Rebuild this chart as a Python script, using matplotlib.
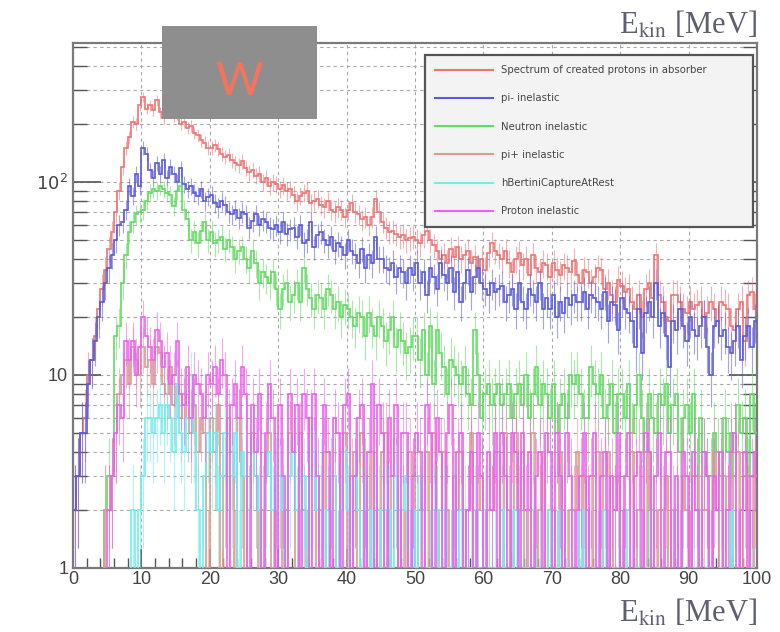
import numpy as np
import matplotlib.pyplot as plt
from matplotlib.lines import Line2D
from matplotlib.patches import Rectangle
from matplotlib.ticker import FixedLocator, NullFormatter, MultipleLocator

# 200 bins of 0.5 MeV between 0 and 100 MeV
edges = np.linspace(0, 100, 201)

total = [
    2, 3, 5, 6, 10, 12, 16, 22, 28, 35, 45, 55, 70, 90, 120, 150, 170, 205, 200, 250,
    275, 240, 250, 235, 265, 230, 215, 250, 235, 220, 225, 200, 205, 190, 195, 180, 175, 165, 160, 150,
    150, 155, 148, 140, 135, 138, 130, 125, 122, 128, 118, 112, 115, 108, 110, 100, 105, 95, 100, 98,
    92, 96, 90, 92, 86, 80, 85, 88, 90, 78, 80, 82, 76, 74, 80, 72, 70, 74, 72, 66,
    72, 78, 70, 68, 64, 66, 60, 66, 82, 70, 62, 58, 55, 56, 54, 52, 53, 50, 51, 52,
    50, 48, 53, 56, 50, 47, 44, 40, 42, 38, 45, 41, 46, 40, 42, 44, 38, 41, 36, 40,
    35, 43, 48, 44, 42, 40, 44, 38, 34, 40, 43, 37, 40, 33, 42, 36, 34, 38, 37, 32,
    38, 35, 33, 37, 36, 34, 39, 33, 30, 35, 34, 30, 32, 36, 35, 28, 30, 26, 24, 31,
    29, 27, 28, 24, 22, 26, 20, 28, 30, 25, 42, 26, 24, 20, 19, 26, 26, 24, 22, 21,
    24, 22, 23, 24, 20, 21, 24, 22, 19, 24, 23, 22, 18, 17, 22, 24, 15, 26, 27, 22,
]

pi_minus = [
    2, 3, 5, 5, 9, 12, 15, 20, 24, 30, 36, 42, 50, 60, 62, 72, 95, 85, 110, 95,
    150, 140, 115, 105, 125, 110, 130, 105, 120, 110, 100, 118, 98, 92, 95, 88, 85, 92, 80, 84,
    86, 78, 74, 80, 76, 70, 68, 72, 65, 70, 68, 58, 63, 68, 60, 64, 62, 58, 57, 60,
    55, 62, 54, 57, 58, 52, 60, 48, 50, 62, 46, 53, 55, 50, 47, 52, 44, 48, 46, 42,
    50, 44, 42, 38, 45, 36, 42, 38, 52, 40, 40, 36, 35, 38, 32, 36, 34, 30, 36, 33,
    38, 30, 34, 26, 36, 32, 28, 38, 33, 30, 36, 27, 34, 24, 30, 35, 27, 32, 36, 30,
    28, 26, 30, 27, 28, 29, 24, 26, 28, 22, 30, 24, 22, 28, 26, 24, 30, 22, 25, 22,
    26, 20, 24, 21, 25, 23, 26, 24, 24, 27, 22, 26, 25, 24, 22, 27, 19, 24, 23, 17,
    25, 22, 21, 19, 14, 22, 13, 21, 24, 20, 30, 18, 21, 16, 11, 19, 17, 22, 18, 15,
    20, 17, 16, 18, 20, 14, 10, 18, 19, 16, 17, 14, 13, 15, 18, 12, 16, 18, 14, 19,
]

neutron = [
    0, 0, 0, 0, 0, 0, 0, 0, 0, 2, 3, 3, 16, 18, 30, 42, 55, 62, 68, 70,
    72, 80, 88, 92, 90, 95, 92, 88, 86, 75, 90, 95, 72, 64, 50, 55, 48, 56, 62, 50,
    55, 48, 50, 52, 45, 50, 46, 40, 44, 46, 40, 36, 44, 38, 30, 34, 32, 30, 34, 28,
    22, 28, 30, 24, 26, 30, 24, 36, 28, 25, 22, 26, 25, 22, 28, 26, 22, 24, 20, 23,
    22, 20, 18, 21, 20, 16, 21, 18, 16, 20, 18, 15, 17, 20, 14, 17, 15, 13, 14, 16,
    16, 12, 17, 10, 18, 9, 17, 13, 11, 8, 12, 11, 10, 9, 11, 8, 7, 17, 10, 6,
    8, 9, 7, 8, 9, 7, 8, 9, 6, 8, 9, 7, 10, 6, 8, 11, 7, 9, 8, 6,
    9, 5, 7, 8, 6, 10, 9, 10, 8, 6, 6, 11, 9, 8, 10, 6, 7, 9, 5, 8,
    8, 6, 9, 5, 7, 10, 6, 4, 8, 6, 5, 8, 7, 9, 5, 7, 8, 4, 6, 7,
    5, 8, 3, 6, 4, 3, 3, 5, 4, 3, 6, 4, 5, 3, 7, 5, 6, 3, 8, 5,
]

pi_plus = [
    0, 0, 0, 0, 0, 0, 0, 0, 0, 2, 2, 3, 5, 8, 10, 12, 9, 14, 12, 10,
    14, 11, 12, 9, 14, 13, 9, 8, 11, 7, 9, 6, 8, 6, 5, 7, 4, 6, 5, 1,
    6, 4, 7, 1, 3, 6, 4, 1, 6, 3, 1, 2, 5, 3, 1, 2, 4, 5, 1, 3,
    3, 1, 2, 5, 4, 1, 5, 2, 1, 6, 4, 1, 2, 4, 1, 3, 3, 1, 4, 5,
    1, 3, 4, 1, 5, 3, 1, 4, 3, 1, 4, 5, 1, 3, 3, 1, 2, 1, 4, 3,
    1, 2, 2, 4, 1, 5, 2, 1, 4, 2, 1, 3, 2, 4, 1, 2, 5, 1, 2, 3,
    1, 2, 2, 4, 4, 1, 5, 2, 1, 5, 2, 4, 1, 2, 5, 1, 2, 4, 1, 2,
    2, 1, 4, 2, 1, 2, 2, 4, 1, 3, 2, 1, 3, 4, 1, 3, 4, 1, 2, 3,
    1, 2, 2, 4, 1, 2, 2, 1, 4, 2, 1, 2, 2, 3, 1, 2, 2, 1, 3, 2,
    1, 3, 3, 1, 2, 2, 1, 4, 2, 1, 3, 2, 1, 3, 4, 1, 3, 2, 1, 3,
]

bertini = [
    0, 0, 0, 0, 0, 0, 0, 0, 0, 0, 0, 0, 0, 0, 0, 0, 0, 2, 0, 2,
    3, 6, 6, 5, 6, 7, 5, 7, 6, 4, 9, 5, 4, 6, 10, 5, 2, 0, 3, 5,
    4, 5, 2, 3, 5, 2, 3, 5, 1, 4, 3, 2, 4, 3, 2, 1, 3, 4, 2, 3,
    3, 2, 1, 3, 4, 2, 2, 3, 1, 3, 4, 2, 3, 1, 2, 3, 3, 1, 2, 4,
    2, 1, 3, 2, 1, 3, 2, 1, 3, 2, 1, 2, 2, 1, 3, 2, 2, 3, 1, 2,
    1, 3, 2, 1, 1, 2, 2, 1, 2, 1, 1, 2, 1, 2, 2, 1, 1, 2, 1, 1,
    2, 1, 1, 1, 1, 2, 1, 1, 1, 2, 1, 1, 1, 1, 2, 1, 1, 1, 1, 2,
    1, 1, 2, 1, 1, 1, 1, 0, 2, 1, 1, 0, 1, 1, 0, 2, 1, 0, 1, 1,
    0, 1, 2, 0, 1, 1, 0, 1, 1, 2, 0, 1, 1, 0, 0, 1, 2, 0, 1, 0,
    0, 1, 1, 2, 0, 1, 1, 0, 0, 1, 1, 0, 2, 0, 1, 0, 0, 1, 1, 0,
]

proton = [
    0, 0, 0, 0, 0, 0, 0, 0, 0, 0, 2, 3, 5, 7, 6, 15, 12, 15, 10, 14,
    20, 16, 14, 12, 17, 15, 11, 13, 9, 10, 15, 8, 7, 11, 6, 10, 9, 8, 6, 10,
    9, 11, 8, 12, 10, 1, 7, 9, 6, 11, 8, 1, 7, 4, 8, 1, 5, 9, 6, 1,
    7, 3, 1, 8, 4, 7, 1, 8, 6, 1, 8, 3, 1, 7, 4, 1, 6, 5, 1, 7,
    8, 1, 3, 6, 7, 1, 4, 9, 1, 7, 5, 1, 6, 3, 7, 1, 5, 5, 1, 3,
    5, 4, 1, 7, 5, 1, 6, 4, 1, 5, 7, 1, 4, 5, 1, 2, 4, 1, 5, 3,
    1, 4, 2, 5, 1, 5, 3, 1, 5, 4, 1, 5, 2, 4, 1, 3, 4, 1, 5, 4,
    1, 5, 3, 1, 5, 3, 1, 2, 3, 5, 1, 3, 5, 1, 3, 4, 1, 3, 2, 5,
    1, 3, 5, 1, 3, 4, 1, 5, 4, 1, 3, 5, 1, 4, 4, 1, 3, 1, 4, 3,
    1, 4, 2, 1, 4, 3, 1, 3, 2, 4, 1, 2, 4, 5, 1, 2, 4, 1, 3, 4,
]

labels = ["Spectrum of created protons in absorber", "pi- inelastic",
          "Neutron inelastic", "pi+ inelastic", "hBertiniCaptureAtRest",
          "Proton inelastic"]
colors = ["#ef7474", "#5a5ad8", "#62dc62", "#dc9c8c", "#70eeee", "#ee62ee"]
series = [total, pi_minus, neutron, pi_plus, bertini, proton]

fig = plt.figure(figsize=(7.8, 6.32), dpi=100)
ax = fig.add_axes([0.0936, 0.1013, 0.8769, 0.8307])
ax.set_yscale("log")

centers = 0.5 * (edges[:-1] + edges[1:])
for vals, c in zip(series, colors):
    v = np.array(vals, dtype=float)
    ax.stairs(np.clip(v, 0.3, None), edges, color=c, lw=1.2, baseline=None, zorder=3)
    # poisson error bars, as ROOT draws them
    m = v > 0
    err = np.sqrt(v[m])
    ax.vlines(centers[m], np.clip(v[m] - err, 0.3, None), v[m] + err,
              color=c, lw=0.8, alpha=0.55, zorder=3)

ax.set_xlim(0, 100)
ax.set_ylim(1, 525)

# ROOT-like grid and ticks
ax.xaxis.set_major_locator(MultipleLocator(10))
ax.xaxis.set_minor_locator(MultipleLocator(2))
ax.yaxis.set_major_locator(FixedLocator([1, 10, 100]))
minors = [k * 10 ** d for d in range(0, 3) for k in range(2, 10)]
ax.yaxis.set_minor_locator(FixedLocator(minors))
ax.yaxis.set_minor_formatter(NullFormatter())
ax.set_yticklabels(["1", "10", "$10^2$"])
ax.grid(True, which="major", axis="x", color="#a8a8a8", ls=(0, (3, 3)), lw=0.8)
ax.grid(True, which="both", axis="y", color="#a8a8a8", ls=(0, (3, 3)), lw=0.8)
ax.tick_params(which="both", direction="in", right=True, colors="#555555",
               labelsize=13, labelcolor="#444444")
ax.tick_params(which="major", axis="y", length=20, width=1.2)
ax.tick_params(which="minor", axis="y", length=10, width=1.0)
ax.tick_params(which="major", axis="x", length=14, width=1.2, pad=2)
ax.tick_params(which="minor", axis="x", length=7, width=1.0)
for lab in ax.get_xticklabels() + ax.get_yticklabels():
    lab.set_family("Liberation Sans")
for s in ax.spines.values():
    s.set_color("#7a7a7a")
    s.set_linewidth(1.6)

handles = [Line2D([], [], color=c, lw=1.5) for c in colors]
leg = ax.legend(handles, labels, loc="upper left", bbox_to_anchor=(0.5146, 0.653, 0.4795, 0.324),
                mode="expand", fontsize=7.3, handlelength=5.7, labelspacing=1.8,
                fancybox=False, framealpha=1, facecolor="#f3f3f3", edgecolor="#555555",
                borderpad=1.0, borderaxespad=0)
leg.get_frame().set_linewidth(1.6)
for t in leg.get_texts():
    t.set_color("#444444")
leg.set_zorder(5)

# axis titles
plt.rcParams["mathtext.fontset"] = "stix"
fig.text(0.971, 0.985, r"E$_{\mathrm{kin}}$ [MeV]", ha="right", va="top",
         fontsize=22, family="Liberation Serif", color="#5e6070")
fig.text(0.971, 0.005, r"E$_{\mathrm{kin}}$ [MeV]", ha="right", va="bottom",
         fontsize=22, family="Liberation Serif", color="#5e6070")

# grey overlay box
fig.patches.append(Rectangle((0.2077, 0.8117), 0.1987, 0.147, transform=fig.transFigure,
                             facecolor="#8e8e8e", edgecolor="none", zorder=10))
fig.text(0.307, 0.870, "W", ha="center", va="center", fontsize=33, family="Lato",
         color="#f6735e", zorder=11)

fig.savefig("out.png", dpi=100, facecolor="white")
